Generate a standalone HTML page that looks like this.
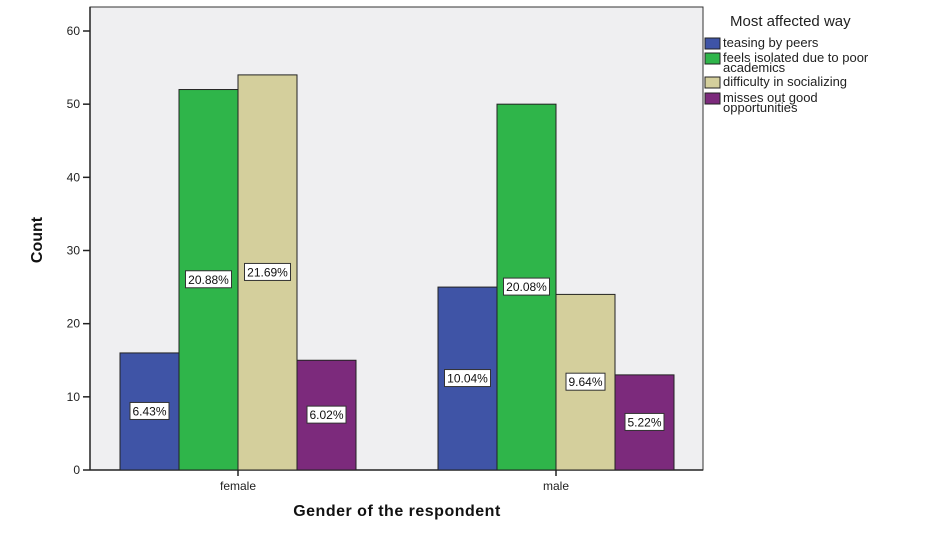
<!DOCTYPE html>
<html><head><meta charset="utf-8"><style>
body{margin:0;background:#fff;width:941px;height:534px;overflow:hidden;font-family:"Liberation Sans",sans-serif}
</style></head><body>
<svg id="chart" width="941" height="534" xmlns="http://www.w3.org/2000/svg" font-family="Liberation Sans, sans-serif"></svg>
<script>
const categories = ["female", "male"];
const seriesNames = ["teasing by peers", "feels isolated due to poor academics", "difficulty in socializing", "misses out good opportunities"];
const teasing = [16, 25];
const isolated = [52, 50];
const socializing = [54, 24];
const misses = [15, 13];
const pctTeasing = ["6.43%", "10.04%"];
const pctIsolated = ["20.88%", "20.08%"];
const pctSocial = ["21.69%", "9.64%"];
const pctMisses = ["6.02%", "5.22%"];
const yTicks = [0, 10, 20, 30, 40, 50, 60];

const colors = ["#3f54a6", "#2fb54a", "#d4cf9c", "#7c2a7c"];
const series = [teasing, isolated, socializing, misses];
const pcts = [pctTeasing, pctIsolated, pctSocial, pctMisses];
const NS = "http://www.w3.org/2000/svg";
const svg = document.getElementById("chart");
const L = 90, R = 703, T = 7, B = 470;
const y = v => B - v * (439 / 60);
const groupCenter = i => 238 + i * 318;
const bw = 59;
function el(tag, attrs, parent) {
  const e = document.createElementNS(NS, tag);
  for (const k in attrs) e.setAttribute(k, attrs[k]);
  (parent || svg).appendChild(e);
  return e;
}
const bg = el("rect", {x: L, y: T, width: R - L, height: B - T, fill: "#efeff1", stroke: "#333", "stroke-width": 1});


yTicks.forEach(t => {
  const tk = el("line", {x1: L - 7, x2: L, y1: y(t), y2: y(t), stroke: "#222", "stroke-width": 1.5});
  
  
  const tx = el("text", {x: L - 10, y: y(t) + 4, "text-anchor": "end", "font-size": 12, fill: "#222"});
  tx.textContent = t;
  
  
});
el("line", {x1: L, x2: L, y1: T, y2: B, stroke: "#222", "stroke-width": 1.5});
el("line", {x1: L, x2: R, y1: B, y2: B, stroke: "#222", "stroke-width": 1.5});
categories.forEach((c, i) => {
  const cx = groupCenter(i);
  series.forEach((s, j) => {
    const x0 = cx - 2 * bw + j * bw;
    const r = el("rect", {x: x0, y: y(s[i]), width: bw, height: B - y(s[i]), fill: colors[j], stroke: "#222", "stroke-width": 1});
    
    
    const ly = y(s[i] / 2);
    const lbl = pcts[j][i];
    const w = lbl.length * 7 + 4;
    const lr = el("rect", {x: x0 + bw / 2 - w / 2, y: ly - 9, width: w, height: 17, fill: "#fff", stroke: "#333", "stroke-width": 1});
    
    
    const lt = el("text", {x: x0 + bw / 2, y: ly + 4, "text-anchor": "middle", "font-size": 12, fill: "#111"});
    lt.textContent = lbl;
    
    
  });
  el("line", {x1: cx, x2: cx, y1: B, y2: B + 6, stroke: "#222", "stroke-width": 1.5});
  const ct = el("text", {x: cx, y: B + 20, "text-anchor": "middle", "font-size": 12, fill: "#222"});
  ct.textContent = c;
  
  
});
const xt = el("text", {x: 397, y: 516, "text-anchor": "middle", "font-size": 16, "font-weight": "bold", fill: "#111", "letter-spacing": "0.5"});
xt.textContent = "Gender of the respondent";


const yt = el("text", {x: 0, y: 0, "text-anchor": "middle", "font-size": 16, "font-weight": "bold", fill: "#111", transform: "translate(42,240) rotate(-90)"});
yt.textContent = "Count";


const lgT = el("text", {x: 730, y: 26, "font-size": 15, fill: "#222"});
lgT.textContent = "Most affected way";


const legendLines = [["teasing by peers"], ["feels isolated due to poor", "academics"], ["difficulty in socializing"], ["misses out good", "opportunities"]];
const legendY = [43, 58, 82, 98];
legendLines.forEach((lines, j) => {
  const g = el("g", {});
  
  
  el("rect", {x: 705, y: legendY[j] - 5, width: 15, height: 11, fill: colors[j], stroke: "#222", "stroke-width": 1}, g);
  lines.forEach((ln, k) => {
    const t = el("text", {x: 723, y: legendY[j] + 4 + k * 10, "font-size": 13, fill: "#222"}, g);
    t.textContent = ln;
  });
});
</script>
</body></html>
